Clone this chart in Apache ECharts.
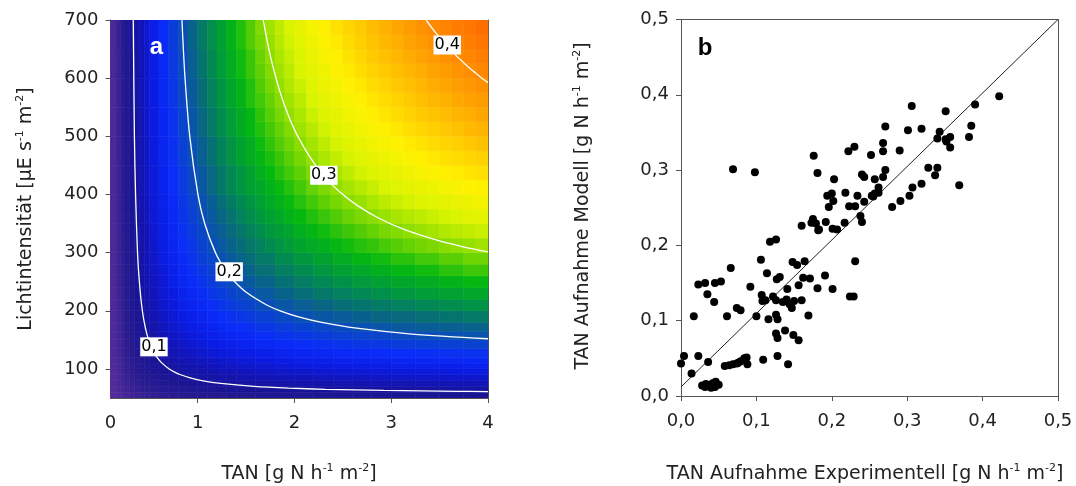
<!DOCTYPE html>
<html><head><meta charset="utf-8">
<script src="https://cdn.jsdelivr.net/npm/echarts@6/dist/echarts.min.js"></script>
<style>html,body{margin:0;padding:0;background:#fff}#c{width:1076px;height:486px}</style>
</head><body><div id="c"></div>
<script>
// ---------- Panel a: model surface (TAN uptake) ----------
const tanEdges = [0.1,0.15,0.2,0.25,0.3,0.35,0.4,0.45,0.5,0.6,0.7,0.8,0.9,1.0,1.1,1.2,1.3,1.4,1.5,1.6,1.8,2.0,2.2,2.4,2.6,2.8,3.0,3.25,3.5,3.75,4.0];
const lightEdges = [50,60,70,80,90,100,110,120,135,150,165,180,200,220,240,260,280,300,325,350,375,400,450,500,550,600,650,700];
// rows: light bands (bottom -> top), columns: TAN bands (left -> right)
const uptakeGrid = [
[0.031,0.038,0.044,0.049,0.053,0.057,0.060,0.062,0.065,0.069,0.072,0.074,0.076,0.078,0.079,0.080,0.081,0.082,0.083,0.084,0.086,0.087,0.087,0.088,0.089,0.089,0.090,0.090,0.091,0.091],
[0.032,0.040,0.047,0.053,0.058,0.062,0.065,0.068,0.072,0.076,0.080,0.083,0.085,0.087,0.089,0.091,0.092,0.093,0.094,0.096,0.097,0.099,0.100,0.101,0.102,0.102,0.103,0.104,0.105,0.105],
[0.033,0.042,0.050,0.056,0.061,0.066,0.070,0.073,0.078,0.083,0.087,0.091,0.094,0.096,0.098,0.100,0.102,0.103,0.105,0.106,0.108,0.110,0.112,0.113,0.114,0.115,0.116,0.117,0.117,0.118],
[0.034,0.044,0.052,0.058,0.064,0.069,0.074,0.078,0.083,0.089,0.094,0.098,0.101,0.104,0.107,0.109,0.111,0.113,0.114,0.116,0.119,0.121,0.123,0.124,0.125,0.126,0.128,0.129,0.130,0.130],
[0.035,0.045,0.053,0.061,0.067,0.073,0.078,0.082,0.088,0.094,0.100,0.104,0.108,0.111,0.114,0.117,0.119,0.121,0.123,0.126,0.128,0.131,0.133,0.135,0.136,0.137,0.139,0.140,0.141,0.142],
[0.036,0.046,0.055,0.063,0.069,0.075,0.081,0.086,0.092,0.099,0.105,0.110,0.114,0.118,0.121,0.124,0.127,0.129,0.131,0.134,0.137,0.140,0.143,0.145,0.146,0.148,0.149,0.151,0.152,0.153],
[0.036,0.047,0.056,0.064,0.072,0.078,0.084,0.089,0.096,0.103,0.110,0.115,0.120,0.124,0.128,0.131,0.134,0.137,0.139,0.142,0.146,0.149,0.152,0.154,0.156,0.158,0.159,0.161,0.163,0.164],
[0.037,0.048,0.058,0.066,0.074,0.081,0.087,0.092,0.100,0.108,0.115,0.122,0.127,0.132,0.136,0.139,0.143,0.146,0.148,0.152,0.156,0.159,0.162,0.165,0.167,0.169,0.171,0.173,0.175,0.176],
[0.037,0.049,0.059,0.068,0.076,0.084,0.090,0.096,0.104,0.113,0.121,0.128,0.134,0.139,0.144,0.148,0.152,0.155,0.158,0.162,0.167,0.171,0.174,0.177,0.180,0.182,0.185,0.187,0.189,0.191],
[0.038,0.050,0.060,0.070,0.078,0.086,0.093,0.099,0.108,0.118,0.127,0.134,0.140,0.146,0.151,0.156,0.160,0.164,0.167,0.172,0.177,0.181,0.185,0.189,0.192,0.194,0.197,0.200,0.202,0.204],
[0.038,0.050,0.061,0.071,0.080,0.088,0.096,0.102,0.111,0.122,0.131,0.139,0.146,0.152,0.158,0.163,0.168,0.172,0.175,0.180,0.186,0.191,0.196,0.199,0.203,0.206,0.209,0.212,0.214,0.216],
[0.039,0.051,0.062,0.073,0.082,0.090,0.098,0.105,0.115,0.126,0.136,0.145,0.152,0.159,0.165,0.171,0.176,0.180,0.184,0.190,0.196,0.202,0.207,0.211,0.215,0.218,0.221,0.224,0.227,0.230],
[0.039,0.052,0.063,0.074,0.084,0.092,0.101,0.108,0.118,0.130,0.141,0.150,0.158,0.166,0.172,0.178,0.184,0.189,0.193,0.199,0.207,0.213,0.218,0.223,0.227,0.231,0.234,0.238,0.241,0.244],
[0.039,0.052,0.064,0.075,0.085,0.094,0.103,0.111,0.121,0.134,0.145,0.155,0.164,0.172,0.179,0.185,0.191,0.197,0.202,0.208,0.216,0.223,0.229,0.234,0.238,0.243,0.247,0.251,0.254,0.258],
[0.040,0.053,0.065,0.076,0.086,0.096,0.105,0.113,0.124,0.137,0.149,0.160,0.169,0.177,0.185,0.192,0.198,0.204,0.209,0.216,0.225,0.232,0.238,0.244,0.249,0.253,0.258,0.262,0.266,0.270],
[0.040,0.053,0.066,0.077,0.088,0.097,0.106,0.115,0.126,0.140,0.153,0.164,0.173,0.182,0.190,0.197,0.204,0.210,0.216,0.224,0.233,0.240,0.247,0.253,0.259,0.264,0.269,0.273,0.278,0.282],
[0.040,0.054,0.066,0.078,0.089,0.099,0.108,0.117,0.129,0.143,0.156,0.167,0.177,0.187,0.195,0.203,0.210,0.216,0.222,0.230,0.240,0.248,0.255,0.262,0.268,0.273,0.278,0.283,0.288,0.292],
[0.040,0.054,0.067,0.079,0.090,0.100,0.109,0.118,0.131,0.146,0.159,0.171,0.181,0.191,0.200,0.208,0.215,0.222,0.229,0.237,0.247,0.256,0.264,0.271,0.277,0.283,0.288,0.294,0.299,0.304],
[0.040,0.054,0.067,0.079,0.091,0.101,0.111,0.120,0.133,0.148,0.162,0.174,0.185,0.196,0.205,0.213,0.221,0.228,0.235,0.244,0.255,0.264,0.273,0.280,0.287,0.293,0.299,0.305,0.310,0.315],
[0.041,0.055,0.068,0.080,0.091,0.102,0.112,0.122,0.135,0.151,0.165,0.178,0.189,0.200,0.209,0.218,0.226,0.234,0.241,0.251,0.262,0.272,0.281,0.289,0.296,0.302,0.308,0.315,0.321,0.326],
[0.041,0.055,0.068,0.081,0.092,0.103,0.113,0.123,0.136,0.153,0.167,0.180,0.192,0.203,0.213,0.223,0.231,0.239,0.246,0.256,0.268,0.279,0.288,0.296,0.304,0.311,0.317,0.324,0.330,0.336],
[0.041,0.055,0.069,0.081,0.093,0.104,0.115,0.125,0.139,0.155,0.171,0.184,0.197,0.208,0.219,0.229,0.238,0.246,0.254,0.264,0.277,0.288,0.298,0.307,0.315,0.322,0.329,0.337,0.343,0.349],
[0.041,0.056,0.069,0.082,0.094,0.106,0.117,0.127,0.141,0.159,0.174,0.189,0.202,0.214,0.225,0.235,0.245,0.254,0.262,0.273,0.287,0.299,0.310,0.319,0.328,0.336,0.344,0.352,0.359,0.366],
[0.041,0.056,0.070,0.083,0.095,0.107,0.118,0.128,0.143,0.161,0.177,0.192,0.206,0.219,0.230,0.241,0.251,0.261,0.269,0.281,0.296,0.308,0.320,0.330,0.339,0.348,0.356,0.365,0.373,0.380],
[0.041,0.056,0.070,0.083,0.096,0.108,0.119,0.130,0.145,0.163,0.180,0.196,0.210,0.223,0.235,0.246,0.257,0.266,0.276,0.288,0.303,0.317,0.329,0.340,0.349,0.358,0.368,0.377,0.385,0.392],
[0.042,0.056,0.071,0.084,0.097,0.109,0.120,0.131,0.146,0.165,0.183,0.198,0.213,0.227,0.239,0.251,0.262,0.272,0.281,0.294,0.310,0.324,0.337,0.348,0.358,0.368,0.377,0.387,0.396,0.404],
[0.042,0.057,0.071,0.084,0.097,0.109,0.121,0.132,0.148,0.167,0.185,0.201,0.216,0.230,0.242,0.254,0.266,0.276,0.286,0.299,0.316,0.330,0.344,0.355,0.366,0.376,0.386,0.396,0.405,0.414]
];
// finer reading of the upper-right corner (TAN 1.6-4, light 300-700)
const fineTanEdges = [1.6,1.7,1.8,1.9,2.0,2.125,2.25,2.375,2.5,2.625,2.75,2.875,3.0,3.125,3.25,3.375,3.5,3.625,3.75,3.875,4.0];
const fineLightEdges = [300,325,350,375,400,425,450,475,500,525,550,575,600,625,650,675,700];
const fineGrid = [
[0.234,0.240,0.245,0.250,0.255,0.260,0.264,0.269,0.273,0.277,0.280,0.284,0.287,0.290,0.293,0.295,0.298,0.300,0.302,0.305],
[0.241,0.247,0.252,0.257,0.263,0.268,0.273,0.278,0.282,0.286,0.290,0.294,0.297,0.300,0.303,0.306,0.309,0.312,0.314,0.316],
[0.248,0.254,0.259,0.265,0.270,0.276,0.281,0.286,0.291,0.295,0.299,0.303,0.307,0.310,0.313,0.316,0.319,0.322,0.325,0.327],
[0.253,0.260,0.266,0.271,0.277,0.283,0.289,0.294,0.299,0.303,0.308,0.312,0.316,0.319,0.323,0.326,0.329,0.332,0.334,0.337],
[0.258,0.265,0.271,0.277,0.283,0.290,0.295,0.301,0.306,0.311,0.315,0.320,0.324,0.327,0.331,0.334,0.338,0.341,0.344,0.346],
[0.263,0.270,0.277,0.283,0.289,0.296,0.302,0.307,0.313,0.318,0.323,0.327,0.331,0.335,0.339,0.343,0.346,0.349,0.352,0.355],
[0.268,0.275,0.281,0.288,0.294,0.301,0.308,0.314,0.319,0.324,0.329,0.334,0.338,0.342,0.346,0.350,0.354,0.357,0.360,0.363],
[0.272,0.279,0.286,0.292,0.299,0.306,0.313,0.319,0.325,0.330,0.336,0.340,0.345,0.349,0.353,0.357,0.361,0.364,0.368,0.371],
[0.276,0.283,0.290,0.297,0.304,0.311,0.318,0.325,0.330,0.336,0.341,0.346,0.351,0.356,0.360,0.364,0.368,0.371,0.375,0.378],
[0.279,0.287,0.294,0.301,0.308,0.316,0.323,0.329,0.336,0.341,0.347,0.352,0.357,0.362,0.366,0.370,0.374,0.378,0.381,0.385],
[0.283,0.290,0.298,0.305,0.312,0.320,0.327,0.334,0.340,0.346,0.352,0.357,0.362,0.367,0.372,0.376,0.380,0.384,0.388,0.391],
[0.286,0.294,0.301,0.309,0.316,0.324,0.332,0.338,0.345,0.351,0.357,0.362,0.368,0.372,0.377,0.382,0.386,0.390,0.393,0.397],
[0.289,0.297,0.305,0.312,0.320,0.328,0.335,0.343,0.349,0.356,0.362,0.367,0.372,0.377,0.382,0.387,0.391,0.395,0.399,0.403],
[0.291,0.300,0.308,0.315,0.323,0.331,0.339,0.346,0.353,0.360,0.366,0.372,0.377,0.382,0.387,0.392,0.396,0.400,0.404,0.408],
[0.294,0.302,0.311,0.318,0.326,0.335,0.343,0.350,0.357,0.364,0.370,0.376,0.381,0.387,0.392,0.396,0.401,0.405,0.409,0.413],
[0.296,0.305,0.313,0.321,0.329,0.338,0.346,0.354,0.361,0.367,0.374,0.380,0.385,0.391,0.396,0.401,0.405,0.410,0.414,0.418]
];
// contour lines [TAN, light]
const contour01 = [[0.335,700],[0.347,500],[0.359,400],[0.379,300],[0.398,250],[0.429,200],[0.461,170],[0.494,150],[0.544,130],[0.581,120],[0.632,110],[0.706,100],[0.758,95],[0.824,90],[0.915,85],[1.043,80],[1.24,75],[1.582,70],[1.941,67],[2.32,65],[2.926,63],[3.692,61.5],[4,61.1]];
const contour02 = [[0.838,700],[0.870,600],[0.919,500],[1.003,400],[1.073,350],[1.184,300],[1.287,270],[1.384,250],[1.517,230],[1.714,210],[1.853,200],[2.034,190],[2.283,180],[2.643,170],[3.215,160],[4,151.9]];
const contour03 = [[1.678,700],[1.736,650],[1.81,600],[1.905,550],[2.034,500],[2.218,450],[2.371,420],[2.5,400],[2.66,380],[2.863,360],[3.132,340],[3.5,320],[3.742,310],[4,301.2]];
const contour04 = [[3.361,700],[3.45,680],[3.605,650],[3.791,620],[3.938,600],[4,592.3]];
const contourLabels = [[0.549,138,'0,1'],[1.326,267,'0,2'],[2.304,433,'0,3'],[3.579,657,'0,4']];
const lightTicks = [100,200,300,400,500,600,700];
const tanTicks = [1,2,3,4];

// ---------- Panel b: experimental vs model ----------
const expValues = [0.000,0.004,0.014,0.017,0.023,0.023,0.032,0.035,0.036,0.044,0.045,0.053,
0.028,0.032,0.037,0.042,0.046,0.050,0.045,0.033,0.040,
0.058,0.064,0.069,0.074,0.076,0.079,0.084,0.087,0.088,0.061,0.066,0.074,0.079,0.092,0.100,0.106,0.109,0.107,0.108,0.112,0.114,0.116,0.118,0.126,0.122,0.126,0.127,0.131,0.126,0.128,0.126,0.128,0.128,0.138,0.142,0.135,0.140,0.144,0.147,0.150,0.141,0.148,0.154,0.149,0.156,0.156,0.160,0.164,0.162,0.171,0.169,0.181,0.191,0.201,0.224,0.229,0.231,
0.098,0.069,0.176,0.181,0.222,0.230,0.252,0.240,0.243,0.257,0.203,0.200,0.194,0.218,0.234,0.202,0.196,0.223,0.231,0.243,0.255,0.262,0.238,0.240,0.175,0.179,0.173,0.160,0.183,0.192,0.201,0.207,0.217,0.182,
0.306,0.351,0.390,0.422,0.271,0.301,0.319,0.343,0.340,0.351,0.357,0.357,0.385,0.382,0.268,0.268,0.290,0.271,0.268,0.262,0.257,0.253,0.280,0.291,0.303,0.307,0.319,0.328,0.340,0.337,0.369,0.352];
const modelValues = [0.043,0.053,0.030,0.106,0.053,0.148,0.150,0.135,0.045,0.125,0.150,0.152,
0.014,0.012,0.014,0.017,0.019,0.015,0.012,0.016,0.011,
0.040,0.041,0.042,0.043,0.044,0.046,0.050,0.051,0.042,0.106,0.170,0.117,0.114,0.145,0.106,0.181,0.048,0.134,0.126,0.127,0.163,0.102,0.205,0.208,0.132,0.127,0.155,0.158,0.108,0.102,0.083,0.077,0.053,0.087,0.042,0.125,0.128,0.122,0.117,0.126,0.142,0.178,0.174,0.081,0.074,0.147,0.127,0.179,0.157,0.156,0.107,0.143,0.160,0.142,0.132,0.132,0.179,
0.297,0.301,0.319,0.296,0.325,0.331,0.320,0.294,0.291,0.288,0.288,0.269,0.266,0.270,0.266,0.259,0.251,0.252,0.252,0.258,0.265,0.270,0.239,0.231,0.235,0.229,0.230,0.226,0.221,0.231,0.222,0.221,0.230,0.220,
0.385,0.378,0.387,0.398,0.358,0.353,0.355,0.351,0.342,0.341,0.344,0.330,0.359,0.344,0.336,0.325,0.326,0.300,0.291,0.277,0.269,0.266,0.251,0.259,0.266,0.277,0.282,0.303,0.303,0.293,0.280,0.338];
const fitLine = [[0,0.012],[0.5,0.5]];

// ---------- build ----------
const cells = [];
for (let r = 0; r < lightEdges.length - 1; r++) {
  for (let c = 0; c < tanEdges.length - 1; c++) {
    if (tanEdges[c] >= 1.6 && lightEdges[r] >= 300) continue; // covered by the finer table
    cells.push([tanEdges[c], tanEdges[c+1], lightEdges[r], lightEdges[r+1], uptakeGrid[r][c]]);
  }
}
for (let r = 0; r < fineLightEdges.length - 1; r++) {
  for (let c = 0; c < fineTanEdges.length - 1; c++) {
    cells.push([fineTanEdges[c], fineTanEdges[c+1], fineLightEdges[r], fineLightEdges[r+1], fineGrid[r][c]]);
  }
}
const scatterData = expValues.map((v, i) => [v, modelValues[i]]);
const FONT = 'DejaVu Sans';
const AX = '#555';
const comma = v => (Math.round(v*10)/10).toFixed(1).replace('.', ',');

const chart = echarts.init(document.getElementById('c'), null, {renderer: 'canvas'});
const supRich = {
  t: {fontSize: 19, fontFamily: FONT, fill: '#222', color: '#222', lineHeight: 23},
  s: {fontSize: 11, fontFamily: FONT, fill: '#222', color: '#222', verticalAlign: 'top', lineHeight: 11}
};
function title(x, y, rot, txt) {
  return {type: 'text', x: x, y: y, rotation: rot, silent: true,
    style: {text: txt, rich: supRich, fontFamily: FONT, fontSize: 19, fill: '#222', align: 'center', verticalAlign: 'middle'}};
}
const unit = '{t|[g N h}{s|-1}{t| m}{s|-2}{t|]}';

chart.setOption({
  animation: false,
  grid: [
    {left: 110.5, top: 20, width: 377.5, height: 378},
    {left: 681, top: 19.5, width: 377, height: 376.5}
  ],
  xAxis: [
    {type: 'value', gridIndex: 0, min: 0.1, max: 4, position: 'bottom',
     axisLine: {show: true, lineStyle: {color: AX, width: 1}},
     axisTick: {show: true, length: 5, customValues: tanTicks, lineStyle: {color: AX}},
     axisLabel: {customValues: [0.1].concat(tanTicks), formatter: v => v < 0.5 ? '0' : String(Math.round(v)), fontFamily: FONT, fontSize: 18, color: '#222', margin: 16},
     splitLine: {show: false}},
    {type: 'value', gridIndex: 0, min: 0.1, max: 4, position: 'top',
     axisLine: {show: true, onZero: false, lineStyle: {color: AX, width: 1}}, axisTick: {show: false}, axisLabel: {show: false}, splitLine: {show: false}},
    {type: 'value', gridIndex: 1, min: 0, max: 0.5, interval: 0.1, position: 'bottom',
     axisLine: {show: true, onZero: false, lineStyle: {color: AX, width: 1}},
     axisTick: {show: true, length: 5, lineStyle: {color: AX}},
     axisLabel: {formatter: comma, fontFamily: FONT, fontSize: 18, color: '#222', margin: 16},
     splitLine: {show: false}},
    {type: 'value', gridIndex: 1, min: 0, max: 0.5, position: 'top',
     axisLine: {show: true, onZero: false, lineStyle: {color: AX, width: 1}}, axisTick: {show: false}, axisLabel: {show: false}, splitLine: {show: false}}
  ],
  yAxis: [
    {type: 'value', gridIndex: 0, min: 50, max: 700, position: 'left',
     axisLine: {show: true, onZero: false, lineStyle: {color: AX, width: 1}},
     axisTick: {show: true, length: 5, customValues: lightTicks, lineStyle: {color: AX}},
     axisLabel: {customValues: lightTicks, fontFamily: FONT, fontSize: 18, color: '#222', margin: 12},
     splitLine: {show: false}},
    {type: 'value', gridIndex: 0, min: 50, max: 700, position: 'right',
     axisLine: {show: true, onZero: false, lineStyle: {color: AX, width: 1}}, axisTick: {show: false}, axisLabel: {show: false}, splitLine: {show: false}},
    {type: 'value', gridIndex: 1, min: 0, max: 0.5, interval: 0.1, position: 'left',
     axisLine: {show: true, onZero: false, lineStyle: {color: AX, width: 1}},
     axisTick: {show: true, length: 5, lineStyle: {color: AX}},
     axisLabel: {formatter: comma, fontFamily: FONT, fontSize: 18, color: '#222', margin: 12},
     splitLine: {show: false}},
    {type: 'value', gridIndex: 1, min: 0, max: 0.5, position: 'right',
     axisLine: {show: true, onZero: false, lineStyle: {color: AX, width: 1}}, axisTick: {show: false}, axisLabel: {show: false}, splitLine: {show: false}}
  ],
  visualMap: {
    type: 'continuous', show: false, seriesIndex: 0, dimension: 4, min: 0.02, max: 0.42,
    inRange: {color: ['#5a2c9a','#4a2898','#2a1c90','#181494','#1214b8','#0a1ce4','#0a2cfa','#0a46c8','#08687e','#009444','#04b810','#7cd800','#d8f400','#fff200','#ffc400','#ff9400','#ff6c00']}
  },
  graphic: [
    title(299, 474, 0, '{t|TAN }' + unit),
    title(865, 474, 0, '{t|TAN Aufnahme Experimentell }' + unit),
    title(26, 209, Math.PI / 2, '{t|Lichtintensität [µE s}{s|-1}{t| m}{s|-2}{t|]}'),
    title(583, 206, Math.PI / 2, '{t|TAN Aufnahme Modell }' + unit),
    {type: 'text', x: 156.5, y: 47.5, silent: true, z: 100,
     style: {text: 'a', fontFamily: 'Liberation Sans', fontWeight: 'bold', fontSize: 24, fill: '#fff', align: 'center', verticalAlign: 'middle'}},
    {type: 'text', x: 705, y: 48, silent: true, z: 100,
     style: {text: 'b', fontFamily: 'Liberation Sans', fontWeight: 'bold', fontSize: 24, fill: '#000', align: 'center', verticalAlign: 'middle'}}
  ],
  series: [
    {type: 'custom', xAxisIndex: 0, yAxisIndex: 0, data: cells, silent: true, clip: true,
     encode: {x: [0, 1], y: [2, 3]},
     renderItem: function (params, api) {
       const p0 = api.coord([api.value(0), api.value(3)]);
       const p1 = api.coord([api.value(1), api.value(2)]);
       const col = api.visual('color');
       return {type: 'rect', shape: {x: p0[0], y: p0[1], width: p1[0] - p0[0], height: p1[1] - p0[1]},
               style: {fill: col, stroke: col, lineWidth: 0.6}};
     }},
    ...[contour01, contour02, contour03, contour04].map(d => ({
      type: 'line', xAxisIndex: 0, yAxisIndex: 0, data: d, smooth: 0.3, symbol: 'none', silent: true, z: 3,
      lineStyle: {color: '#fff', width: 1.3, opacity: 1}
    })),
    {type: 'scatter', xAxisIndex: 0, yAxisIndex: 0, data: contourLabels, symbol: 'rect', symbolSize: 1, silent: true, z: 5,
     itemStyle: {color: '#fff', opacity: 1},
     label: {show: true, position: 'inside', formatter: p => p.value[2], backgroundColor: '#ffffff', color: '#000', opacity: 1,
             fontFamily: FONT, fontSize: 16, padding: [2, 1, 1, 1]}},
    {type: 'line', xAxisIndex: 2, yAxisIndex: 2, data: fitLine, symbol: 'none', silent: true,
     lineStyle: {color: '#222', width: 1}},
    {type: 'scatter', xAxisIndex: 2, yAxisIndex: 2, data: scatterData, symbol: 'circle', symbolSize: 8, silent: true, z: 4,
     itemStyle: {color: '#000', opacity: 1}}
  ]
});
</script>
</body></html>
